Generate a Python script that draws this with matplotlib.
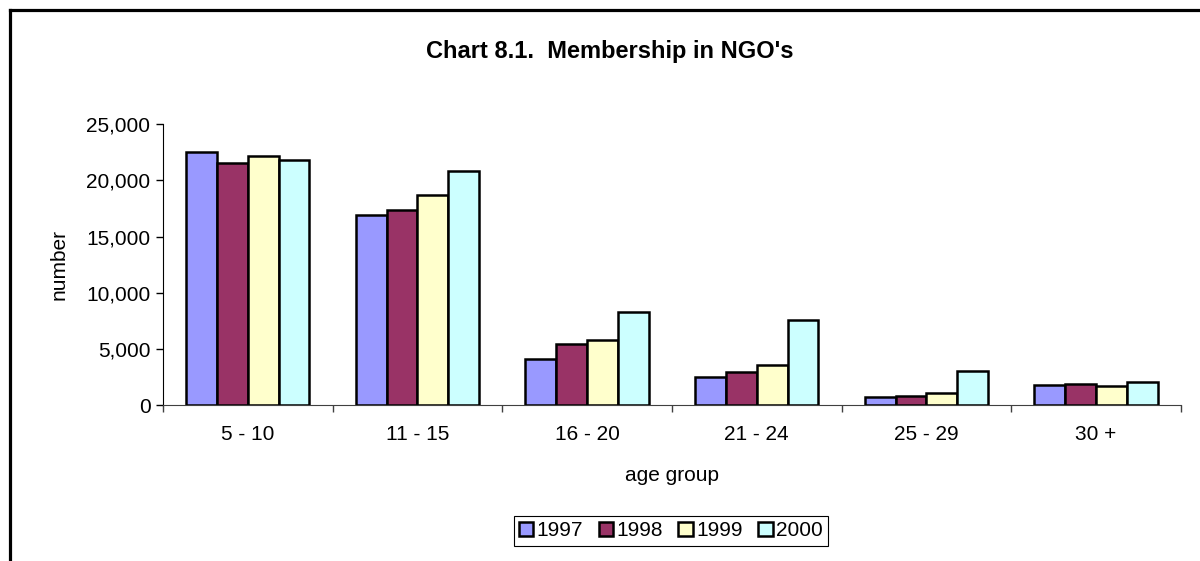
import matplotlib
matplotlib.use("Agg")
import matplotlib.pyplot as plt
from matplotlib.lines import Line2D
from matplotlib.ticker import FuncFormatter, FixedLocator
import numpy as np

plt.rcParams['font.family'] = ['Liberation Sans', 'DejaVu Sans']

age_groups = ["5 - 10", "11 - 15", "16 - 20", "21 - 24", "25 - 29", "30 +"]
years = ["1997", "1998", "1999", "2000"]
members_1997 = [22500, 16900, 4100, 2500, 750, 1800]
members_1998 = [21500, 17400, 5500, 3000, 850, 1900]
members_1999 = [22200, 18700, 5800, 3600, 1150, 1750]
members_2000 = [21800, 20800, 8300, 7600, 3050, 2050]
colors = ["#9999FF", "#993366", "#FFFFCC", "#CCFFFF"]

series = [members_1997, members_1998, members_1999, members_2000]

fig = plt.figure(figsize=(12, 5.61), dpi=100)
ax = fig.add_axes([0.1358, 0.2772, 0.8483, 0.5018])

x = np.arange(len(age_groups))
w = 1 / 5.5
for i, (vals, col, yr) in enumerate(zip(series, colors, years)):
    ax.bar(x + (i - 1.5) * w, vals, width=w, color=col, edgecolor="black",
           linewidth=1.8, label=yr)

ax.set_xlim(-0.5, len(age_groups) - 0.5)
ax.set_ylim(0, 25000)
ax.set_yticks(np.arange(0, 25001, 5000))
ax.yaxis.set_major_formatter(FuncFormatter(lambda v, p: f"{int(v):,}"))

# ticks on category boundaries, labels in the middle
ax.xaxis.set_major_locator(FixedLocator(np.arange(-0.5, len(age_groups), 1.0)))
ax.xaxis.set_major_formatter(FuncFormatter(lambda v, p: ""))
ax.xaxis.set_minor_locator(FixedLocator(x))
ax.set_xticklabels(age_groups, minor=True)
ax.tick_params(axis="x", which="minor", length=0, pad=14, labelsize=15)
ax.tick_params(axis="x", which="major", length=5, width=1, color="#404040")
ax.tick_params(axis="y", length=5, width=1, labelsize=15, pad=4)

for s in ["top", "right"]:
    ax.spines[s].set_visible(False)
ax.spines["left"].set_color("black")
ax.spines["bottom"].set_color("#404040")

fig.text(0.508, 0.908, "Chart 8.1.  Membership in NGO's", ha="center",
         va="center", fontsize=17, fontweight="bold")
fig.text(0.56, 0.153, "age group", ha="center", va="center", fontsize=15)
fig.text(0.049, 0.528, "number", ha="center", va="center", fontsize=15,
         rotation=90)

leg = fig.legend(loc="center", bbox_to_anchor=(0.559, 0.0535), ncol=4,
                 fontsize=15, handlelength=0.7, handleheight=0.7,
                 handletextpad=0.15, columnspacing=0.75, borderpad=0.25,
                 fancybox=False, framealpha=1)
leg.get_frame().set_edgecolor("black")
leg.get_frame().set_linewidth(0.8)
for h in leg.legend_handles:
    h.set_linewidth(1.8)

# chart border (top and left edges)
top = 1 - 10 / 561
left = 10 / 1200
fig.add_artist(Line2D([left, 1.0], [top, top], color="black", linewidth=2.3,
                      transform=fig.transFigure))
fig.add_artist(Line2D([left, left], [0.0, top], color="black", linewidth=2.3,
                      transform=fig.transFigure))

fig.savefig("out.png", dpi=100)
